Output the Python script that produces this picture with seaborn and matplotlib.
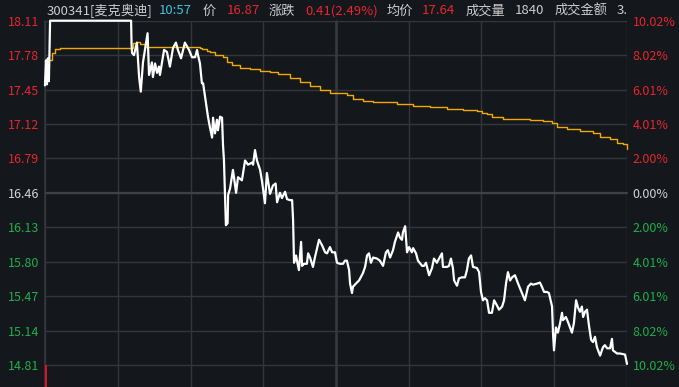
import seaborn as sns
import matplotlib.pyplot as plt
import pandas as pd

# 分时数据 (分钟, 9:30 起算, 11:30/13:00 拼接在 120)
price_min = [0.0, 0.4, 0.8, 1.2, 1.6, 2.1, 35.5, 35.7, 35.9, 36.7, 37.9, 38.8, 39.5, 40.4, 42.3, 42.9,
             44.1, 44.5, 45.4, 46.2, 47.0, 47.4, 49.1, 50.3, 51.5, 52.8, 54.0, 54.8, 56.1, 57.7, 59.4,
             60.6, 61.9, 62.7, 63.1, 63.9, 64.7, 65.2, 66.0, 66.8, 67.2, 68.0, 68.9, 69.3, 70.1, 70.9,
             71.3, 72.2, 73.0, 73.4, 73.8, 74.2, 74.6, 75.3, 75.5, 76.3, 77.5, 78.8, 79.6, 81.2, 82.5,
             83.7, 85.4, 85.8, 86.6, 87.4, 88.7, 89.5, 90.7, 91.5, 92.8, 94.0, 95.1, 95.7, 96.9, 97.7,
             99.0, 99.8, 101.0, 101.9, 102.3, 102.5, 102.7, 103.5, 103.9, 104.7, 105.6, 106.0, 106.8,
             108.0, 108.5, 109.3, 110.5, 111.3, 113.0, 114.2, 115.5, 116.3, 117.5, 118.4, 119.6, 120.4,
             121.6, 122.9, 123.7, 124.5, 125.4, 125.8, 126.6, 127.0, 128.2, 129.5, 131.1, 132.0, 132.8,
             133.6, 134.4, 135.3, 136.9, 138.1, 139.4, 140.6, 141.4, 142.3, 143.5, 144.3, 145.6, 146.4,
             147.2, 147.6, 148.5, 149.3, 150.1, 151.3, 151.8, 153.0, 153.8, 155.5, 156.3, 157.1, 158.4,
             159.6, 160.4, 161.6, 162.5, 163.7, 164.1, 165.8, 166.6, 167.4, 168.2, 168.7, 169.9, 170.7,
             171.9, 173.2, 174.0, 174.8, 175.7, 176.5, 178.1, 179.0, 179.8, 180.6, 181.4, 182.3, 183.1,
             184.3, 185.2, 186.4, 187.2, 188.5, 189.3, 190.1, 190.9, 191.8, 192.6, 193.8, 195.1, 196.7,
             197.9, 199.2, 200.4, 201.2, 202.9, 204.1, 204.9, 205.8, 207.0, 207.8, 209.1, 209.5, 209.9,
             210.7, 211.5, 212.4, 213.2, 213.6, 214.8, 215.7, 217.3, 218.1, 219.0, 219.8, 220.6, 221.4,
             221.9, 222.7, 223.5, 224.3, 225.2, 226.0, 226.8, 227.6, 228.9, 230.1, 230.9, 231.8, 233.0,
             233.8, 234.2, 235.9, 237.1, 239.2, 240.0]
price = [17.49, 17.73, 17.50, 17.75, 17.53, 18.11, 18.11, 17.88, 17.80, 17.78, 17.90, 17.57, 17.43, 17.71,
         17.99, 17.59, 17.71, 17.57, 17.70, 17.61, 17.67, 17.59, 17.83, 17.81, 17.67, 17.85, 17.90, 17.83,
         17.75, 17.90, 17.83, 17.76, 17.76, 17.83, 17.78, 17.70, 17.51, 17.51, 17.38, 17.25, 17.19, 17.09,
         16.99, 17.18, 17.03, 17.16, 17.06, 17.19, 17.18, 16.92, 16.77, 16.46, 16.15, 16.17, 16.44, 16.50,
         16.68, 16.46, 16.61, 16.58, 16.77, 16.73, 16.75, 16.73, 16.87, 16.77, 16.68, 16.57, 16.36, 16.65,
         16.45, 16.53, 16.55, 16.37, 16.46, 16.41, 16.47, 16.40, 16.39, 16.39, 16.20, 15.98, 15.79, 15.86,
         15.81, 15.72, 15.99, 15.76, 15.78, 15.78, 15.88, 15.84, 15.75, 15.84, 16.01, 15.96, 15.89, 15.88,
         15.94, 15.89, 15.89, 15.79, 15.78, 15.78, 15.81, 15.81, 15.72, 15.59, 15.50, 15.56, 15.59, 15.62,
         15.69, 15.75, 15.86, 15.88, 15.79, 15.84, 15.83, 15.81, 15.76, 15.89, 15.91, 15.84, 15.91, 15.99,
         16.08, 16.03, 16.01, 16.08, 16.14, 15.89, 15.94, 15.89, 15.93, 15.88, 15.81, 15.76, 15.76, 15.79,
         15.67, 15.74, 15.83, 15.79, 15.83, 15.88, 15.75, 15.75, 15.76, 15.83, 15.74, 15.62, 15.57, 15.64,
         15.65, 15.65, 15.72, 15.83, 15.86, 15.75, 15.74, 15.70, 15.51, 15.43, 15.45, 15.43, 15.31, 15.31,
         15.43, 15.38, 15.34, 15.37, 15.43, 15.59, 15.70, 15.62, 15.65, 15.67, 15.59, 15.50, 15.43, 15.56,
         15.59, 15.58, 15.59, 15.60, 15.56, 15.51, 15.51, 15.50, 15.37, 15.11, 14.95, 15.17, 15.12, 15.21,
         15.31, 15.24, 15.27, 15.22, 15.12, 15.21, 15.43, 15.36, 15.32, 15.37, 15.27, 15.32, 15.34, 15.19,
         15.05, 15.03, 15.08, 14.98, 14.90, 14.98, 15.00, 14.97, 14.97, 15.06, 14.95, 14.92, 14.92, 14.91,
         14.82]

avg_min = [2.1, 2.9, 4.1, 6.2, 35.5, 36.3, 37.9, 39.2, 41.2, 43.3, 63.9, 64.7, 66.8, 68.0, 70.1, 72.2,
           73.4, 75.1, 77.1, 80.4, 84.5, 88.7, 92.8, 96.1, 101.0, 105.2, 109.3, 113.4, 117.5, 120.8,
           124.5, 127.0, 131.1, 135.3, 141.0, 145.2, 151.8, 158.8, 165.8, 172.4, 178.1, 180.2, 182.3,
           184.3, 188.9, 194.7, 200.0, 205.3, 209.1, 211.1, 215.3, 220.6, 226.0, 228.9, 233.0, 235.9,
           238.4, 240.0]
avg_price = [17.73, 17.80, 17.84, 17.85, 17.85, 17.90, 17.91, 17.89, 17.86, 17.86, 17.85, 17.84, 17.82,
             17.81, 17.78, 17.78, 17.76, 17.71, 17.69, 17.66, 17.65, 17.63, 17.62, 17.60, 17.56, 17.52,
             17.48, 17.45, 17.42, 17.42, 17.40, 17.36, 17.34, 17.33, 17.33, 17.31, 17.29, 17.28, 17.26,
             17.25, 17.24, 17.23, 17.22, 17.19, 17.17, 17.17, 17.16, 17.15, 17.13, 17.09, 17.07, 17.05,
             17.03, 17.00, 16.98, 16.94, 16.93, 16.88]

prev_close = 16.46
y_ticks = [18.11, 17.78, 17.45, 17.12, 16.79, 16.46, 16.13, 15.80, 15.47, 15.14, 14.81]
pct_labels = ["10.02%", "8.02%", "6.01%", "4.01%", "2.00%", "0.00%",
              "2.00%", "4.01%", "6.01%", "8.02%", "10.02%"]
x_ticks = [0, 30, 60, 90, 120, 150, 180, 210, 240]
first_vol_min = [0.4]

header = [("300341[麦克奥迪]", 47, "#cccccc"), ("10:57", 159, "#3fc3dc"), ("价", 203, "#cccccc"),
          ("16.87", 227, "#e8262d"), ("涨跌", 269, "#cccccc"), ("0.41(2.49%)", 305, "#e8262d"),
          ("均价", 387, "#cccccc"), ("17.64", 422, "#e8262d"), ("成交量", 466, "#cccccc"),
          ("1840", 515, "#cccccc"), ("成交金额", 555, "#cccccc"), ("3.", 617, "#cccccc")]

RED, GREEN, WHITE = "#e8262d", "#1fae4a", "#d4d4d4"
BG, GRID = "#14171c", "#33363a"

sns.set_theme(style="dark", rc={"axes.facecolor": BG, "figure.facecolor": BG,
                                "axes.edgecolor": GRID, "grid.color": GRID})
plt.rcParams["font.family"] = ["Noto Sans CJK SC", "DejaVu Sans"]

df_p = pd.DataFrame({"t": price_min, "p": price})
df_a = pd.DataFrame({"t": avg_min, "p": avg_price})

fig = plt.figure(figsize=(6.79, 3.87), dpi=100)
ax = fig.add_axes([45 / 679, 0, (627 - 45) / 679, 1 - 20.7 / 387])
ymin = 14.599
ax.set_xlim(0, 240)
ax.set_ylim(ymin, 18.11)

ax.set_xticks(x_ticks)
ax.set_yticks(y_ticks)
ax.grid(True, color=GRID, linewidth=1.0)
ax.axhline(prev_close, color="#3e4145", linewidth=1.6, zorder=1)
ax.axvline(120, color="#36393d", linewidth=1.8, zorder=1)
for s in ax.spines.values():
    s.set_visible(False)
ax.axvline(0, color=GRID, linewidth=1.2)

sns.lineplot(data=df_a, x="t", y="p", ax=ax, color="#f2a900", linewidth=1.0,
             drawstyle="steps-post", estimator=None, sort=False)
sns.lineplot(data=df_p, x="t", y="p", ax=ax, color="white", linewidth=1.6,
             estimator=None, sort=False)
for ln in ax.get_lines():
    ln.set_clip_on(False)
ax.vlines(first_vol_min, ymin, y_ticks[-1], color="#e0141e", linewidth=1.4)

ax.set_xlabel("")
ax.set_ylabel("")
ax.set_xticklabels([])
ax.tick_params(axis="both", length=0, pad=4)
ax.set_yticklabels([f"{v:.2f}" for v in y_ticks], fontsize=9)
for lbl, v in zip(ax.get_yticklabels(), y_ticks):
    lbl.set_color(RED if v > prev_close else GREEN if v < prev_close else WHITE)

ax2 = ax.twinx()
ax2.set_ylim(ax.get_ylim())
ax2.set_yticks(y_ticks)
ax2.set_yticklabels(pct_labels, fontsize=9)
ax2.tick_params(axis="y", length=0, pad=4)
ax2.grid(False)
for s in ax2.spines.values():
    s.set_visible(False)
for lbl, v in zip(ax2.get_yticklabels(), y_ticks):
    lbl.set_color(RED if v > prev_close else GREEN if v < prev_close else WHITE)

for txt, px, col in header:
    fig.text(px / 679, 1 - 11 / 387, txt, color=col, fontsize=9.5, va="center", ha="left")

fig.savefig("out.png", dpi=100, facecolor=BG)
